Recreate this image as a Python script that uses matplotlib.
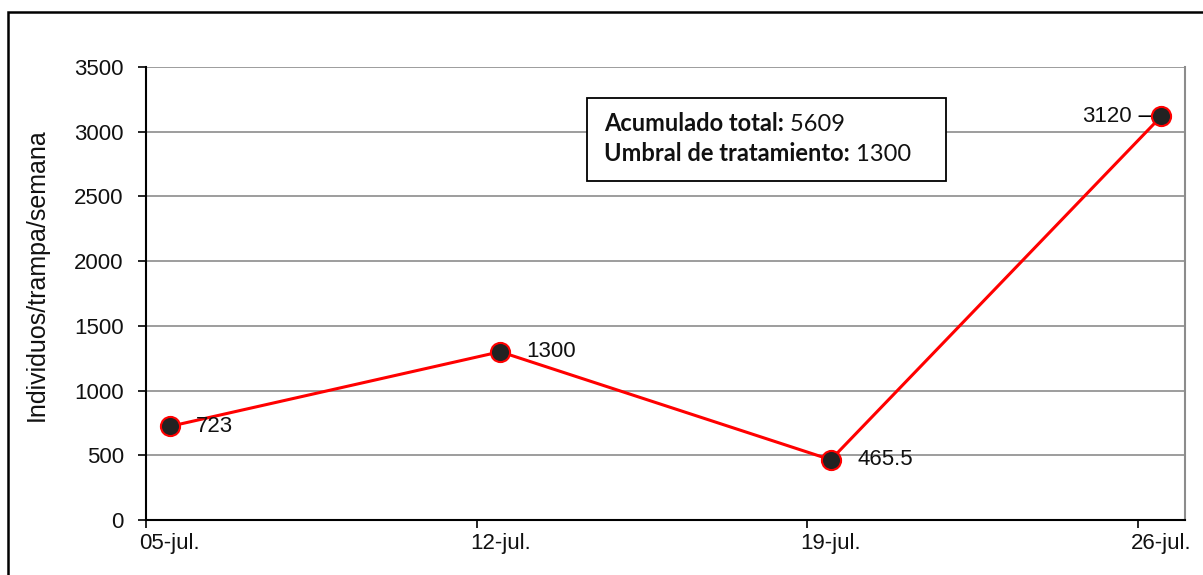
import matplotlib
matplotlib.use('Agg')
import matplotlib.pyplot as plt
from matplotlib.patches import Rectangle
import numpy as np

# datos
fechas = ['05-jul.', '12-jul.', '19-jul.', '26-jul.']
dias = [0, 7, 14, 21]          # días desde el 05-jul
valores = [723, 1300, 465.5, 3120]
etiquetas = ['723', '1300', '465.5', '3120']
acumulado = 5609
umbral = 1300

plt.rcParams['font.family'] = ['Liberation Sans', 'DejaVu Sans']
fs = 16

W, H = 1203, 575
fig = plt.figure(figsize=(W / 100, H / 100), dpi=100)
fig.patch.set_facecolor('white')

# marco exterior del gráfico
fig.patches.append(Rectangle((8 / W, -0.2), 1.2, 1.2 - 12 / H, transform=fig.transFigure,
                             fill=False, edgecolor='black', linewidth=1.8))

ax = fig.add_axes([146 / W, 55 / H, (1185 - 146) / W, (520 - 67) / H])

x = np.array(dias) + 0.5   # puntos en el centro del día (eje de fechas)
ax.plot(x, valores, color='red', linewidth=2.2, zorder=3)
ax.scatter(x, valores, s=190, facecolor='#222222', edgecolor='red', linewidth=1.5, zorder=4)

# etiquetas de datos
for xi, v, t in zip(x[:3], valores[:3], etiquetas[:3]):
    ax.annotate(t, (xi, v), xytext=(19, 0), textcoords='offset points',
                ha='left', va='center', fontsize=fs, color='#111111')
ax.annotate(etiquetas[3], (x[3], valores[3]), xytext=(-21, 0), textcoords='offset points',
            ha='right', va='center', fontsize=fs, color='#111111',
            arrowprops=dict(arrowstyle='-', color='black', lw=1.2, shrinkA=3, shrinkB=4))

ax.set_xlim(0, 22)
ax.set_ylim(0, 3500)
ax.set_yticks(np.arange(0, 3501, 500))
ax.set_xticks(dias)
ax.set_xticklabels([])
ax.set_xticks(x, minor=True)
ax.set_xticklabels(fechas, minor=True)
ax.tick_params(axis='x', which='minor', length=0, pad=9)
ax.tick_params(axis='x', which='major', length=6, width=1.2, direction='out')
ax.tick_params(axis='y', length=6, width=1.2, direction='out', pad=10)
ax.tick_params(which='both', labelsize=fs, labelcolor='#111111')

ax.grid(axis='y', color='#8c8c8c', linewidth=1.2)
ax.set_axisbelow(True)
ax.spines['top'].set_visible(False)
ax.spines['right'].set_color('#8c8c8c')
ax.spines['right'].set_linewidth(1.5)
ax.spines['left'].set_linewidth(1.5)
ax.spines['bottom'].set_linewidth(1.5)

ax.set_ylabel('Individuos/trampa/semana', fontsize=18, color='#111111')
ax.yaxis.set_label_coords(-0.094, 0.541)

# cuadro de texto
ax.add_patch(Rectangle((587 / W, 1 - 181 / H), (946 - 587) / W, (181 - 98) / H,
                       transform=fig.transFigure, facecolor='white', clip_on=False,
                       edgecolor='black', linewidth=1.3, zorder=5))
caja = ['Lato', 'DejaVu Sans']
cfs = 17
t1 = ax.text(604 / W, 1 - 131 / H, 'Acumulado total:', fontsize=cfs, fontweight='bold',
             family=caja, va='baseline', ha='left', zorder=6, color='#111111',
             transform=fig.transFigure)
t2 = ax.text(604 / W, 1 - 161 / H, 'Umbral de tratamiento:', fontsize=cfs, fontweight='bold',
             family=caja, va='baseline', ha='left', zorder=6, color='#111111',
             transform=fig.transFigure)
ax.annotate(' %d' % acumulado, xy=(1, 0), xycoords=t1, fontsize=cfs, family=caja,
            va='bottom', ha='left', zorder=6, color='#111111', annotation_clip=False)
ax.annotate(' %d' % umbral, xy=(1, 0), xycoords=t2, fontsize=cfs, family=caja,
            va='bottom', ha='left', zorder=6, color='#111111', annotation_clip=False)

fig.savefig('out.png', dpi=100)
